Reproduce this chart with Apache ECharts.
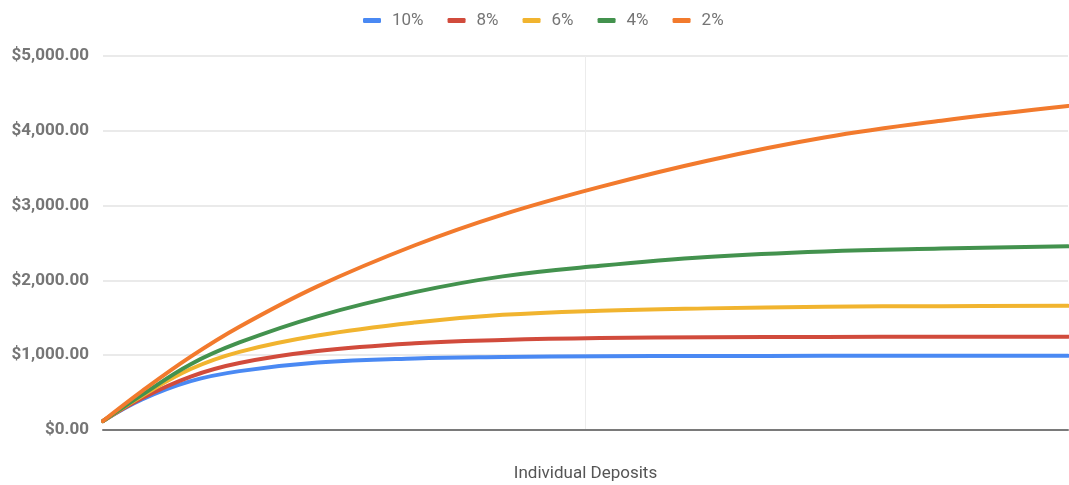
<!DOCTYPE html>
<html>
<head>
<meta charset="utf-8">
<title>Individual Deposits</title>
<script src="https://cdn.jsdelivr.net/npm/echarts@6/dist/echarts.min.js"></script>
<style>
  html, body { margin: 0; padding: 0; background: #ffffff; }
  #chart { width: 1069px; height: 485px; }
</style>
</head>
<body>
<div id="chart"></div>
<script>
// Deposit index (0 = first deposit) at which each curve is sampled
const periods = [0, 4, 9, 14, 22, 32, 41, 51, 62, 74, 86, 99];

// Accumulated value of the deposits for each rate
const rate10 = [120, 408, 653, 787, 902, 957, 975, 985, 989, 991, 992, 993];
const rate8  = [120, 425, 714, 895, 1055, 1160, 1204, 1230, 1240, 1244, 1247, 1248];
const rate6  = [120, 455, 815, 1045, 1263, 1437, 1540, 1595, 1626, 1648, 1655, 1660];
const rate4  = [120, 470, 880, 1170, 1520, 1843, 2054, 2195, 2313, 2388, 2425, 2455];
const rate2  = [120, 520, 980, 1380, 1920, 2470, 2880, 3250, 3600, 3910, 4135, 4332];

const seriesNames = ['10%', '8%', '6%', '4%', '2%'];
const seriesValues = [rate10, rate8, rate6, rate4, rate2];
const seriesColors = ['#4a89f3', '#d14b3c', '#f1b42f', '#43924e', '#f27a2d'];

const yTicks = [0, 1000, 2000, 3000, 4000, 5000];

const chart = echarts.init(document.getElementById('chart'), null, { renderer: 'canvas' });

const fmtMoney = v => '$' + v.toLocaleString('en-US', { minimumFractionDigits: 2, maximumFractionDigits: 2 });

chart.setOption({
  animation: false,
  backgroundColor: '#ffffff',
  textStyle: { fontFamily: 'Roboto, "Noto Sans", sans-serif' },
  legend: {
    top: 7,
    left: 358,
    itemWidth: 18,
    itemHeight: 5,
    itemGap: 24,
    icon: 'roundRect',
    textStyle: { color: '#757575', fontSize: 17, padding: [0, 0, 0, 6] },
    data: seriesNames
  },
  grid: { left: 103, right: 1, top: 56, bottom: 55, containLabel: false, outerBoundsMode: 'none' },
  xAxis: {
    type: 'value',
    min: periods[0],
    max: periods[periods.length - 1],
    interval: 49.5,
    name: 'Individual Deposits',
    nameLocation: 'middle',
    nameGap: 35,
    nameTextStyle: { color: '#555555', fontSize: 17 },
    axisLine: { show: true, lineStyle: { color: '#7a7a7a', width: 2 } },
    axisTick: { show: false },
    axisLabel: { show: false },
    splitLine: { show: true, lineStyle: { color: ['transparent', '#ececec', 'transparent'], width: 1 } }
  },
  yAxis: {
    type: 'value',
    min: yTicks[0],
    max: yTicks[yTicks.length - 1],
    interval: 1000,
    axisLine: { show: false },
    axisTick: { show: false },
    axisLabel: {
      color: '#757575',
      fontSize: 17,
      fontWeight: 'bold',
      margin: 14,
      formatter: fmtMoney
    },
    splitLine: { lineStyle: { color: '#e3e3e3', width: 1.5 } }
  },
  series: seriesNames.map((name, i) => ({
    name,
    type: 'line',
    data: periods.map((p, k) => [p, seriesValues[i][k]]),
    smooth: 0.4,
    showSymbol: false,
    symbol: 'none',
    lineStyle: { width: 4, color: seriesColors[i], cap: 'round' },
    itemStyle: { color: seriesColors[i] }
  }))
});
</script>
</body>
</html>
